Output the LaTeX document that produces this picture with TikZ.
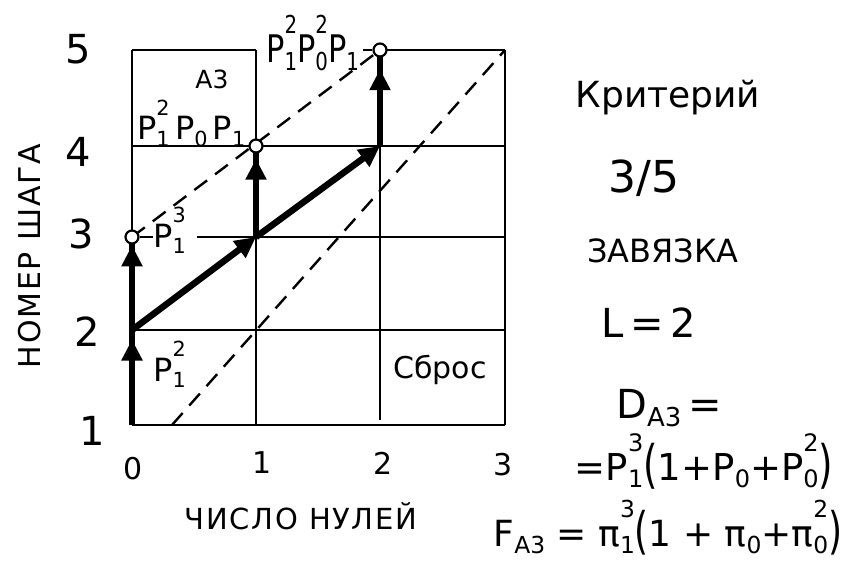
\documentclass[tikz,border=0pt]{standalone}
\usepackage{fontspec}
\setmainfont{DejaVu Sans}
\setsansfont{DejaVu Sans}
\usetikzlibrary{arrows.meta,decorations.markings,calc}
\newcommand\Sb[1]{\raisebox{-0.2em}{\scalebox{0.65}{#1}}}
\newcommand\Sp[1]{\raisebox{0.78em}{\scalebox{0.65}{#1}}}
\newcommand\SuSb[2]{\makebox[0pt][l]{\Sb{#1}}\Sp{#2}}
\newcommand\Lp{\raisebox{-0.08em}{\scalebox{1}[1.4]{(}}}
\newcommand\Rp{\raisebox{-0.08em}{\scalebox{1}[1.4]{)}}}
\newcommand\fsz[1]{\fontsize{#1}{#1}\selectfont}
\begin{document}
\begin{tikzpicture}[x=1pt,y=-1pt,
  gridln/.style={line width=2.7pt},
  dsh/.style={line width=2.4pt, dash pattern=on 16pt off 10pt},
  thk/.style={line width=6.5pt},
  bigtip/.tip={Triangle[length=21pt,width=20pt]},
  midarr/.style={postaction={decorate},decoration={markings,mark=at position #1 with {\arrow{bigtip}}}},
  dot/.style={circle,draw,fill=white,line width=2.2pt,inner sep=0pt,minimum size=13pt},
  lab/.style={inner sep=0pt, font=\fsz{32}},
  ynum/.style={inner sep=0pt, font=\fsz{40}},
  xnum/.style={inner sep=0pt, font=\fsz{30}},
  rtxt/.style={inner sep=0pt, anchor=base},
]
\useasboundingbox (0,0) rectangle (850,564);
\foreach \i/\x in {0/132,1/256,2/380,3/505}{
  \foreach \j/\y in {1/425,2/330,3/237,4/146,5/50}{
    \coordinate (g\i\j) at (\x,\y);}}
\coordinate (h3) at (197,237);
\coordinate (d1) at (172,425);
\coordinate (g21a) at (380,420);
% grid
\draw[gridln] (g05) -- (g15);
\draw[gridln] (g25) -- (g35);
\draw[gridln] (g04) -- (g34);
\draw[gridln] (h3) -- (g33);
\draw[gridln] (g02) -- (g32);
\draw[gridln] (g01) -- (g31);
\draw[gridln] (g05) -- (g03);
\draw[gridln] (g15) -- (g11);
\draw[gridln] (g24) -- (g21a);
\draw[gridln] (g35) -- (g31);
% dashed
\draw[dsh] (g03) -- (g25);
\draw[dsh] (d1) -- (g35);
% thick arrows
\draw[thk, midarr=0.9] (g01) -- (g02);
\draw[thk, midarr=0.91] (g02) -- (g03);
\draw[thk, midarr=0.86] (g13) -- (g14);
\draw[thk, midarr=0.8] (g24) -- (g25);
\draw[thk, -{bigtip}] (g02) -- (g13);
\draw[thk, -{bigtip}] (g13) -- (g24);
% circles
\node[dot] (c03) at (g03) {};
\node[dot] (c14) at (g14) {};
\node[dot] (c25) at (g25) {};
% grid labels
\node[lab, font=\fsz{25}] (la3) at (212,79) {А3};
\node[lab, anchor=base west] (l4) at (137,140) {P\SuSb{1}{2}\,P\Sb{0}\,P\Sb{1}};
\node[lab, anchor=base west, font=\fsz{38}] (l5) at (266,63) {\scalebox{0.8}[1]{P\SuSb{1}{2}P\SuSb{0}{2}P\Sb{1}}};
\node[lab, anchor=base west] (l3) at (153,247) {P\SuSb{1}{3}};
\node[lab, anchor=base west] (l2) at (153,381) {P\SuSb{1}{2}};
\node[lab, font=\fsz{30}] (sb) at (440,370) {Сброс};
\draw[gridln] (c03.east) -- (c03.east -| l3.west);
\draw[gridln, shorten <=4pt] (l5.east |- c25.west) -- (c25.west);
% axis numbers
\node[ynum] (y5) at (78,49) {5};
\node[ynum] (y4) at (78,152) {4};
\node[ynum] (y3) at (81,234) {3};
\node[ynum] (y2) at (87,332) {2};
\node[ynum] (y1) at (92,431) {1};
\node[xnum] (x0) at (133,469) {0};
\node[xnum] (x1) at (262,463) {1};
\node[xnum] (x2) at (383,463) {2};
\node[xnum] (x3) at (503,465) {3};
\node[inner sep=0pt, font=\fsz{29}\addfontfeatures{LetterSpace=6}] (xl) at (301,516) {ЧИСЛО НУЛЕЙ};
\node[inner sep=0pt, rotate=90, font=\fsz{30}\addfontfeatures{LetterSpace=6}] (yl) at (30,256) {НОМЕР ШАГА};
% right side
\node[rtxt, font=\fsz{36}] (kr) at (668,108) {Критерий};
\node[rtxt, font=\fsz{44}] (cr) at (644,192) {3/5};
\node[rtxt, font=\fsz{32}] (zv) at (663,262) {ЗАВЯЗКА};
\node[rtxt, font=\fsz{40}] (ll) at (649,337) {L\,=\,2};
\node[rtxt, font=\fsz{40}] (da) at (669,418) {D\Sb{А3}\,=};
\node[rtxt, font=\fsz{37}] (df) at (704,480) {=P\SuSb{1}{3}\Lp1+P\Sb{0}+P\SuSb{0}{2}\Rp};
\node[rtxt, font=\fsz{36}] (fa) at (668,546) {F\Sb{А3} = π\SuSb{1}{3}\Lp1 + π\Sb{0}+π\SuSb{0}{2}\Rp};
\end{tikzpicture}
\end{document}
